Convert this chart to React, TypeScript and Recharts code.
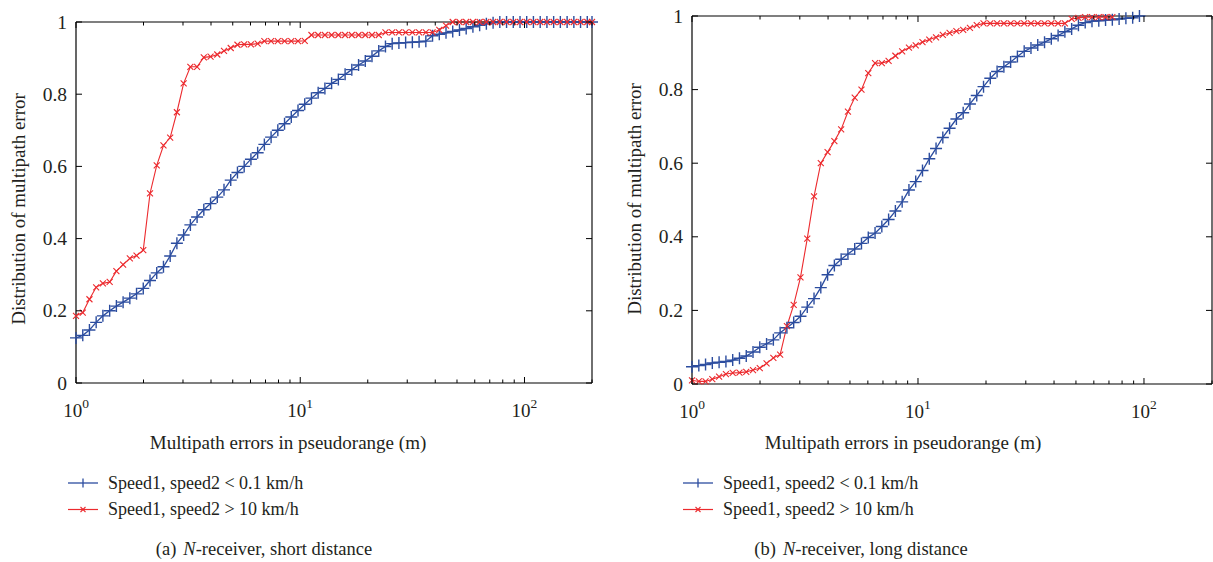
import React from 'react';
import { LineChart, Line, XAxis, YAxis, Legend, Label } from 'recharts';

const FONT = '"Liberation Serif", "DejaVu Serif", "Times New Roman", serif';
const TEXT = '#231f20';
const BLUE = '#2c4d9f';
const RED = '#ec2a2e';
const H = 562;

// shared x sample positions (m)
const xGrid = [
  1, 1.072, 1.148, 1.23, 1.318, 1.413, 1.514, 1.622, 1.738, 1.862,
  1.995, 2.138, 2.291, 2.455, 2.63, 2.818, 3.02, 3.236, 3.467, 3.715,
  3.981, 4.266, 4.571, 4.898, 5.248, 5.623, 6.026, 6.457, 6.918, 7.413,
  7.943, 8.511, 9.12, 9.772, 10.47, 11.22, 12.02, 12.88, 13.8, 14.79,
  15.85, 16.98, 18.2, 19.5, 20.89, 22.39, 23.99, 25.7, 27.54, 29.51,
  31.62, 33.88, 36.31, 38.9, 41.69, 44.67, 47.86, 51.29, 54.95, 58.88,
  63.1, 67.61, 72.44, 77.62, 83.18, 89.13, 95.5, 102.3, 109.6, 117.5,
  125.9, 134.9, 144.5, 154.9, 166, 177.8, 190.5, 200,
];

// (a) short distance
const blueShort = [
  0.125, 0.132, 0.147, 0.168, 0.186, 0.2, 0.213, 0.224, 0.235, 0.247,
  0.262, 0.284, 0.305, 0.322, 0.352, 0.387, 0.41, 0.438, 0.46, 0.48,
  0.497, 0.515, 0.535, 0.562, 0.583, 0.6, 0.62, 0.638, 0.661, 0.681,
  0.7, 0.718, 0.737, 0.755, 0.772, 0.789, 0.804, 0.816, 0.83, 0.841,
  0.855, 0.868, 0.881, 0.892, 0.905, 0.92, 0.932, 0.94, 0.942, 0.943,
  0.944, 0.945, 0.947, 0.962, 0.966, 0.97, 0.974, 0.978, 0.982, 0.987,
  0.991, 0.995, 0.998, 1, 1, 1, 1, 1, 1, 1,
  1, 1, 1, 1, 1, 1, 1, 1,
];
const redShort = [
  0.186, 0.195, 0.232, 0.265, 0.276, 0.28, 0.31, 0.328, 0.345, 0.353,
  0.368, 0.525, 0.603, 0.658, 0.68, 0.75, 0.83, 0.876, 0.876, 0.902,
  0.904, 0.91, 0.92, 0.928, 0.937, 0.938, 0.938, 0.94, 0.947, 0.947,
  0.947, 0.947, 0.947, 0.947, 0.948, 0.964, 0.964, 0.964, 0.964, 0.964,
  0.964, 0.964, 0.964, 0.964, 0.964, 0.964, 0.971, 0.971, 0.971, 0.971,
  0.971, 0.971, 0.971, 0.971, 0.978, 0.99, 1, 1, 1, 1,
  1, 1, 1, 1, 1, 1, 1, 1, 1, 1,
  1, 1, 1, 1, 1, 1, 1, 1,
];

// (b) long distance
const blueLong = [
  0.047, 0.05, 0.053, 0.057, 0.059, 0.061, 0.065, 0.07, 0.076, 0.087,
  0.1, 0.109, 0.12, 0.139, 0.153, 0.167, 0.184, 0.209, 0.232, 0.262,
  0.297, 0.322, 0.339, 0.353, 0.367, 0.382, 0.398, 0.41, 0.428, 0.447,
  0.47, 0.495, 0.527, 0.55, 0.58, 0.612, 0.64, 0.67, 0.695, 0.72,
  0.737, 0.761, 0.784, 0.808, 0.831, 0.849, 0.862, 0.875, 0.89, 0.904,
  0.913, 0.921, 0.929, 0.938, 0.947, 0.957, 0.965, 0.975, 0.982, 0.986,
  0.987, 0.989, 0.99, 0.992, 0.994, 0.995, 1,
];
const redLong = [
  0.01, 0.007, 0.007, 0.013, 0.02, 0.027, 0.03, 0.031, 0.033, 0.038,
  0.043, 0.056, 0.071, 0.08, 0.157, 0.215, 0.29, 0.395, 0.51, 0.6,
  0.63, 0.66, 0.692, 0.74, 0.778, 0.8, 0.845, 0.872, 0.872, 0.878,
  0.892, 0.904, 0.914, 0.92, 0.929, 0.936, 0.942, 0.949, 0.954, 0.959,
  0.962, 0.968, 0.975, 0.98, 0.98, 0.98, 0.98, 0.98, 0.98, 0.98,
  0.98, 0.98, 0.98, 0.98, 0.98, 0.98, 0.992, 0.995, 0.997, 0.997,
  0.997, 0.997, 0.997,
];

const xTicks = [1, 2, 3, 4, 5, 6, 7, 8, 9, 10, 20, 30, 40, 50, 60, 70, 80, 90, 100, 200];
const xMajor = [1, 10, 100];
const xMajorExp = ['0', '1', '2'];
const yTicks = [0, 0.2, 0.4, 0.6, 0.8, 1];
const yTickLabels = ['0', '0.2', '0.4', '0.6', '0.8', '1'];
const seriesNames = ['Speed1, speed2 < 0.1 km/h', 'Speed1, speed2 > 10 km/h'];
const xTitle = 'Multipath errors in pseudorange (m)';
const yTitle = 'Distribution of multipath error';
const captionTags = ['(a)', '(b)'];
const captionTexts = ['-receiver, short distance', '-receiver, long distance'];

const BottomTick = (props: any) => {
  const { x, y, payload } = props;
  const mi = xMajor.indexOf(payload.value);
  const len = mi >= 0 ? 6 : 3.5;
  return (
    <g>
      <line x1={x} x2={x} y1={y} y2={y - len} stroke="#000" strokeWidth={1} />
      {mi >= 0 && (
        <text x={x} y={y + 34} textAnchor="middle" fontFamily={FONT} fontSize={19} fill={TEXT}>
          10
          <tspan dy={-9} fontSize={13.5}>{xMajorExp[mi]}</tspan>
        </text>
      )}
    </g>
  );
};

const TopTick = (props: any) => {
  const { x, y, payload } = props;
  const len = xMajor.indexOf(payload.value) >= 0 ? 6 : 3.5;
  return <line x1={x} x2={x} y1={y} y2={y + len} stroke="#000" strokeWidth={1} />;
};

const LeftTick = (props: any) => {
  const { x, y, index } = props;
  return (
    <g>
      <line x1={x} x2={x + 6} y1={y} y2={y} stroke="#000" strokeWidth={1} />
      <text x={x - 9} y={y + 6.5} textAnchor="end" fontFamily={FONT} fontSize={19.5} fill={TEXT}>
        {yTickLabels[index]}
      </text>
    </g>
  );
};

const RightTick = (props: any) => {
  const { x, y } = props;
  return <line x1={x} x2={x - 6} y1={y} y2={y} stroke="#000" strokeWidth={1} />;
};

const PlusDot = (props: any) => {
  const { cx, cy, index } = props;
  if (cx == null || cy == null) return <g key={`p${index}`} />;
  const h = 6;
  return (
    <path
      key={`p${index}`}
      d={`M${cx - h},${cy}H${cx + h}M${cx},${cy - h}V${cy + h}`}
      stroke={BLUE}
      strokeWidth={1.4}
      fill="none"
    />
  );
};

const CrossDot = (props: any) => {
  const { cx, cy, index } = props;
  if (cx == null || cy == null) return <g key={`c${index}`} />;
  const h = 3;
  return (
    <path
      key={`c${index}`}
      d={`M${cx - h},${cy - h}L${cx + h},${cy + h}M${cx - h},${cy + h}L${cx + h},${cy - h}`}
      stroke={RED}
      strokeWidth={1.1}
      fill="none"
    />
  );
};

const LegendContent = (props: any) => {
  const payload = props.payload || [];
  return (
    <svg width={340} height={58} style={{ display: 'block', overflow: 'visible' }}>
      {payload.map((entry: any, i: number) => {
        const cy = 17 + i * 26.5;
        const isBlue = entry.color === BLUE;
        return (
          <g key={i}>
            <line x1={8} x2={38} y1={cy} y2={cy} stroke={entry.color} strokeWidth={isBlue ? 1.3 : 1.2} />
            {isBlue ? (
              <path d={`M23,${cy - 4.5}V${cy + 4.5}`} stroke={BLUE} strokeWidth={1.3} />
            ) : (
              <path d={`M20.5,${cy - 2.5}L25.5,${cy + 2.5}M20.5,${cy + 2.5}L25.5,${cy - 2.5}`} stroke={RED} strokeWidth={1.1} />
            )}
            <text x={48} y={cy + 5.5} fontFamily={FONT} fontSize={18} fill={TEXT}>
              {entry.value}
            </text>
          </g>
        );
      })}
    </svg>
  );
};

type PanelProps = {
  left: number;
  width: number;
  plotLeft: number;
  plotRight: number;
  plotTop: number;
  plotBottom: number;
  blue: number[];
  red: number[];
  xTitleX: number;
  yTitleX: number;
  yTitleY: number;
  legendLeft: number;
  captionX: number;
  idx: number;
};

function Panel(p: PanelProps) {
  const blueData = p.blue.map((y, i) => ({ x: xGrid[i], y }));
  const redData = p.red.map((y, i) => ({ x: xGrid[i], y }));
  const margin = {
    top: p.plotTop - 1,
    right: p.width - p.plotRight - 1,
    bottom: H - p.plotBottom - 40,
    left: 0,
  };
  const axisLine = { stroke: '#000', strokeWidth: 1.2 };
  return (
    <div style={{ position: 'absolute', left: p.left, top: 0, width: p.width, height: H }}>
      <LineChart width={p.width} height={H} margin={margin}>
        <XAxis
          xAxisId="b"
          dataKey="x"
          type="number"
          scale="log"
          domain={[1, 200]}
          ticks={xTicks}
          interval={0}
          height={40}
          tickSize={0}
          tickMargin={0}
          tickLine={false}
          axisLine={axisLine}
          tick={<BottomTick />}
        >
          <Label
            content={() => (
              <text x={p.xTitleX} y={449} textAnchor="middle" fontFamily={FONT} fontSize={19} fill={TEXT}>
                {xTitle}
              </text>
            )}
          />
        </XAxis>
        <XAxis
          xAxisId="t"
          orientation="top"
          dataKey="x"
          type="number"
          scale="log"
          domain={[1, 200]}
          allowDataOverflow
          ticks={xTicks}
          interval={0}
          height={1}
          tickSize={0}
          tickMargin={0}
          tickLine={false}
          axisLine={axisLine}
          tick={<TopTick />}
        />
        <YAxis
          yAxisId="l"
          type="number"
          domain={[0, 1]}
          ticks={yTicks}
          interval={0}
          width={p.plotLeft}
          tickSize={0}
          tickMargin={0}
          tickLine={false}
          axisLine={axisLine}
          tick={<LeftTick />}
        >
          <Label
            content={() => (
              <text
                x={p.yTitleX}
                y={p.yTitleY}
                textAnchor="middle"
                transform={`rotate(-90 ${p.yTitleX} ${p.yTitleY})`}
                fontFamily={FONT}
                fontSize={19}
                fill={TEXT}
              >
                {yTitle}
              </text>
            )}
          />
        </YAxis>
        <YAxis
          yAxisId="r"
          orientation="right"
          type="number"
          domain={[0, 1]}
          allowDataOverflow
          ticks={yTicks}
          interval={0}
          width={1}
          tickSize={0}
          tickMargin={0}
          tickLine={false}
          axisLine={{ stroke: '#333', strokeWidth: 1.4 }}
          tick={<RightTick />}
        />
        <Line
          xAxisId="b"
          yAxisId="l"
          data={blueData}
          dataKey="y"
          name={seriesNames[0]}
          type="linear"
          stroke={BLUE}
          strokeWidth={1.3}
          dot={PlusDot}
          activeDot={false}
          isAnimationActive={false}
        />
        <Line
          xAxisId="b"
          yAxisId="l"
          data={redData}
          dataKey="y"
          name={seriesNames[1]}
          type="linear"
          stroke={RED}
          strokeWidth={1.1}
          dot={CrossDot}
          activeDot={false}
          isAnimationActive={false}
        />
        <Legend
          layout="vertical"
          align="center"
          verticalAlign="middle"
          wrapperStyle={{ left: p.legendLeft, top: 466, width: 340, height: 58 }}
          content={LegendContent}
        />
      </LineChart>
      <svg
        style={{ position: 'absolute', left: 0, top: 530 }}
        width={p.width}
        height={32}
      >
        <text x={p.captionX} y={25} textAnchor="middle" fontFamily={FONT} fontSize={18.5} fill={TEXT}>
          {captionTags[p.idx]}
          <tspan dx={7} fontStyle="italic">N</tspan>
          {captionTexts[p.idx]}
        </text>
      </svg>
    </div>
  );
}

export default function App() {
  return (
    <div
      style={{
        position: 'absolute',
        left: 0,
        top: 0,
        width: 1213,
        height: H,
        background: '#fff',
        overflow: 'hidden',
      }}
    >
      <Panel
        idx={0}
        left={0}
        width={610}
        plotLeft={76}
        plotRight={592}
        plotTop={22}
        plotBottom={383}
        blue={blueShort}
        red={redShort}
        xTitleX={288}
        yTitleX={25}
        yTitleY={209}
        legendLeft={60}
        captionX={264}
      />
      <Panel
        idx={1}
        left={610}
        width={603}
        plotLeft={82}
        plotRight={602}
        plotTop={16}
        plotBottom={384}
        blue={blueLong}
        red={redLong}
        xTitleX={293}
        yTitleX={31}
        yTitleY={199}
        legendLeft={65}
        captionX={251}
      />
    </div>
  );
}
